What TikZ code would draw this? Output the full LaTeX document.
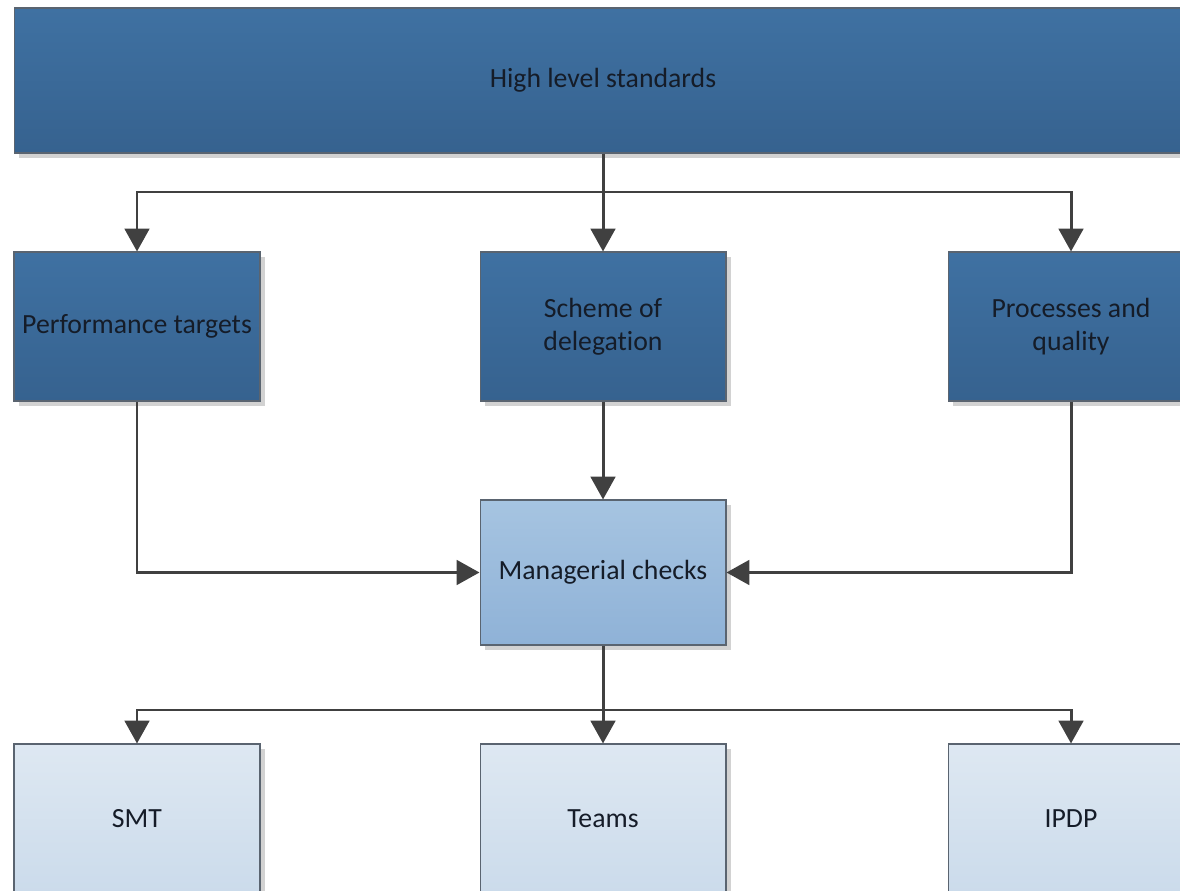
\documentclass[tikz,border=0pt]{standalone}
\usepackage{fontspec}
\setmainfont{Carlito}[Ligatures={NoCommon}]
\usetikzlibrary{arrows.meta,shadows}

\definecolor{dkTop}{HTML}{3F71A2}
\definecolor{dkBot}{HTML}{36628F}
\definecolor{mdTop}{HTML}{A6C4E1}
\definecolor{mdBot}{HTML}{8FB2D7}
\definecolor{ltTop}{HTML}{DEE8F2}
\definecolor{ltBot}{HTML}{CBDBEB}
\definecolor{boxline}{HTML}{5A6470}
\definecolor{textcol}{HTML}{151C28}
\definecolor{linkgray}{HTML}{404040}
\definecolor{shadowgray}{HTML}{D2D2D2}

\tikzset{
  box/.style={draw=boxline, line width=0.6pt, align=center,
    minimum width=4.92cm, minimum height=2.98cm,
    font=\fontsize{15.8}{18.7}\selectfont, text=textcol,
    drop shadow={shadow xshift=0.1cm, shadow yshift=-0.1cm,
      fill=shadowgray, opacity=1}},
  darkbox/.style={box, top color=dkTop, bottom color=dkBot},
  midbox/.style={box, top color=mdTop, bottom color=mdBot},
  lightbox/.style={box, top color=ltTop, bottom color=ltBot},
  plain/.style={draw=linkgray, line width=1.7pt},
  link/.style={plain, -{Triangle[width=14pt,length=13pt]}}
}

\begin{document}
\begin{tikzpicture}[x=0.02cm,y=-0.02cm]
   \useasboundingbox (0,0) rectangle (1180,891);
   \clip (0,0) rectangle (1180,891);

   % boxes
   \node[darkbox, minimum width=23.56cm, minimum height=2.9cm] (hls) at (603,80.5) {High level standards};
   \node[darkbox] (perf) at (137,326.5) {Performance targets};
   \node[darkbox] (sod)  at (603,326.5) {Scheme of\\delegation};
   \node[darkbox] (proc) at (1071,326.5) {Processes and\\quality};
   \node[midbox, minimum height=2.9cm] (mgr) at (603,572.5) {Managerial checks};
   \foreach \x/\n/\t in {137/smt/SMT, 603/teams/Teams, 1071/ipdp/IPDP}
     \node[lightbox] (\n) at (\x,818.5) {\t};

   % connectors
   \coordinate (topsplit) at (603,192);
   \coordinate (botsplit) at (603,710);
   \draw[link] (hls.south) -- (sod.north);
   \draw[link] (topsplit) -| (perf.north);
   \draw[link] (topsplit) -| (proc.north);
   \draw[link] (sod.south) -- (mgr.north);
   \draw[link] (perf.south) |- (mgr.west);
   \draw[link] (proc.south) |- (mgr.east);
   \draw[link] (mgr.south) -- (teams.north);
   \draw[link] (botsplit) -| (smt.north);
   \draw[link] (botsplit) -| (ipdp.north);
\end{tikzpicture}
\end{document}
